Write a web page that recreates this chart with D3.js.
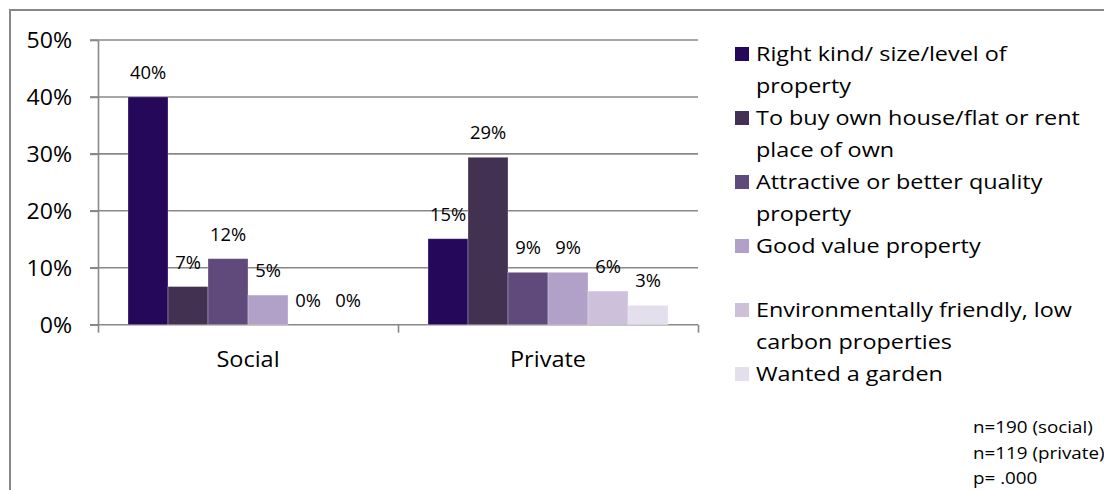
<!DOCTYPE html>
<html>
<head>
<meta charset="utf-8">
<script src="https://cdn.jsdelivr.net/npm/d3@7"></script>
<style>
  html, body { margin: 0; padding: 0; background: #fff; }
  svg { display: block; font-family: "Open Sans", sans-serif; }
</style>
</head>
<body>
<svg id="chart" width="1104" height="490"></svg>
<script>
// ---------- data ----------
const categories = ["Social", "Private"];
const seriesNames = [
  "Right kind/ size/level of property",
  "To buy own house/flat or rent place of own",
  "Attractive or better quality property",
  "Good value property",
  "Environmentally friendly, low carbon properties",
  "Wanted a garden"
];
const socialValues  = [40.0, 6.7, 11.6, 5.2, 0, 0];
const privateValues = [15.1, 29.4, 9.2, 9.2, 5.9, 3.4];
const yTicks = [0, 10, 20, 30, 40, 50];
const legendLines = [
  ["Right kind/ size/level of", "property"],
  ["To buy own house/flat or rent", "place of own"],
  ["Attractive or better quality", "property"],
  ["Good value property", ""],
  ["Environmentally friendly, low", "carbon properties"],
  ["Wanted a garden"]
];
const noteLines = ["n=190 (social)", "n=119 (private)", "p= .000"];
const colors = ["#26085b", "#433152", "#604a7b", "#b1a0c7", "#ccc0da", "#e4dfec"];

// ---------- layout ----------
(function () {
const svg = d3.select("#chart");
const FONT = "'Open Sans', sans-serif";
const plotL = 98, plotR = 698, plotT = 40, plotB = 324.7;
const gridColor = "#888888";

const x0 = d3.scaleBand().domain(categories).range([plotL, plotR]).padding(0);
const x1 = d3.scaleBand().domain(d3.range(seriesNames.length)).range([30, 270]).padding(0);
const y = d3.scaleLinear().domain([0, 50]).range([plotB, plotT]);
const color = d3.scaleOrdinal().domain(d3.range(seriesNames.length)).range(colors);

// text with a horizontal stretch (the reference's text is wider than it is tall)
function stretchedText(g, x, yy, str, size, anchor, sx) {
  return g.append("text")
    .attr("transform", `translate(${x},${yy}) scale(${sx},1)`)
    .attr("text-anchor", anchor || "start")
    .attr("font-size", size)
    .attr("font-family", FONT)
    .attr("fill", "#000")
    .text(str);
}

// outer frame
svg.append("path")
  .attr("d", "M10,492V10H1106")
  .attr("fill", "none").attr("stroke", "#888").attr("stroke-width", 2);

// gridlines
svg.append("g").selectAll("line").data(yTicks.filter(d => d > 0)).join("line")
  .attr("x1", plotL - 8).attr("x2", plotR)
  .attr("y1", d => y(d)).attr("y2", d => y(d))
  .attr("stroke", gridColor).attr("stroke-width", 1.6);

// y axis
const yAxisG = svg.append("g").attr("transform", `translate(${plotL},0)`)
  .call(d3.axisLeft(y).tickValues(yTicks).tickSize(8).tickSizeOuter(0).tickFormat(d => d + "%"));
yAxisG.select(".domain").attr("stroke", gridColor).attr("stroke-width", 1.6);
yAxisG.selectAll(".tick line").attr("stroke", gridColor).attr("stroke-width", 1.6);
yAxisG.selectAll(".tick text")
  .attr("x", 0).attr("dy", null)
  .attr("transform", `translate(-26,7.5) scale(1.1,1)`)
  .attr("font-size", 21).attr("font-family", FONT).attr("fill", "#000");

// x axis (boundary ticks)
const xb = d3.scaleLinear().domain([0, categories.length]).range([plotL, plotR]);
const xAxisG = svg.append("g").attr("transform", `translate(0,${plotB})`)
  .call(d3.axisBottom(xb).tickValues(d3.range(categories.length + 1)).tickSize(8).tickSizeOuter(0).tickFormat(""));
xAxisG.select(".domain").attr("stroke", gridColor).attr("stroke-width", 1.6)
  .attr("d", `M${plotL - 8},0H${plotR}`);
xAxisG.selectAll(".tick line").attr("stroke", gridColor).attr("stroke-width", 1.6);

// category labels
categories.forEach(c => {
  stretchedText(svg, x0(c) + x0.bandwidth() / 2, 367, c, 21, "middle", 1.12);
});

// bars
const valuesByCat = { "Social": socialValues, "Private": privateValues };
const groups = svg.append("g").selectAll("g").data(categories).join("g")
  .attr("transform", c => `translate(${x0(c)},0)`);
groups.selectAll("rect")
  .data(c => valuesByCat[c].map((v, i) => ({ v, i })))
  .join("rect")
  .attr("x", d => x1(d.i)).attr("width", x1.bandwidth())
  .attr("y", d => y(d.v)).attr("height", d => plotB - y(d.v))
  .attr("fill", d => color(d.i))
  .attr("stroke", "#ffffff").attr("stroke-opacity", 0.35).attr("stroke-width", 0.8);

// data labels
groups.each(function (c) {
  const g = d3.select(this);
  valuesByCat[c].forEach((v, i) => {
    stretchedText(g, x1(i) + x1.bandwidth() / 2, y(v) - 18, Math.round(v) + "%", 17.5, "middle", 1.05);
  });
});

// legend
const legendX = 735, legendTextX = 756, lineH = 32;
let baseY = 61;
const leg = svg.append("g");
legendLines.forEach((lines, i) => {
  leg.append("rect")
    .attr("x", legendX).attr("y", baseY - 14).attr("width", 14).attr("height", 14)
    .attr("fill", color(i));
  lines.forEach((ln, k) => {
    if (ln) stretchedText(leg, legendTextX, baseY + k * lineH, ln, 20, "start", 1.17);
  });
  baseY += lines.length * lineH;
});

// note
noteLines.forEach((ln, k) => {
  stretchedText(svg, 973, 433 + k * 25.5, ln, 16.5, "start", 1.14);
});
})();
</script>
</body>
</html>
